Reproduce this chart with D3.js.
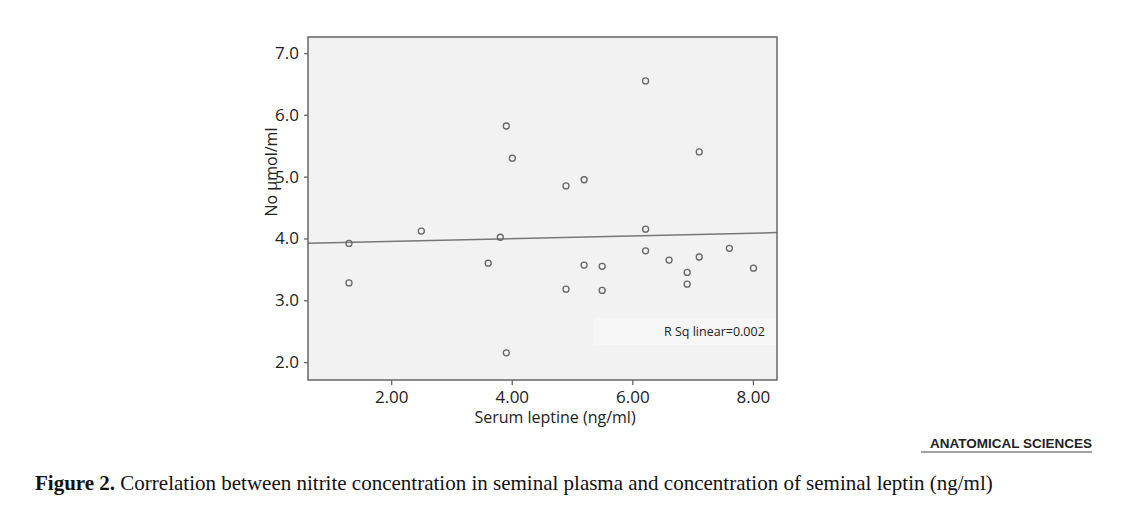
<!DOCTYPE html>
<html><head><meta charset="utf-8">
<script src="https://cdn.jsdelivr.net/npm/d3@7"></script>
<style>body{margin:0;background:#fff}</style>
</head><body>
<svg id="chart" width="1123" height="527"></svg>
<script>
// data
var leptin = [1.30,1.30,2.50,3.81,3.61,3.91,4.01,3.91,4.90,5.20,4.90,5.20,5.50,5.50,6.22,6.22,6.22,6.61,6.91,6.91,7.11,7.11,7.61,8.01];
var nitrite = [3.92,3.28,4.12,4.02,3.60,5.82,5.30,2.15,4.85,4.95,3.18,3.57,3.55,3.16,6.55,4.15,3.80,3.65,3.45,3.26,3.70,5.40,3.84,3.52];
var xTicks = [2, 4, 6, 8];
var yTicks = [2, 3, 4, 5, 6, 7];
var fitIntercept = 3.91, fitSlope = 0.022;

var svg = d3.select("#chart");
var pLeft = 308, pRight = 777, pTop = 37, pBottom = 380;
var x = d3.scaleLinear().domain([0.62, 8.4]).range([pLeft, pRight]);
var y = d3.scaleLinear().domain([1.71, 7.26]).range([pBottom, pTop]);

svg.append("rect").attr("x", pLeft).attr("y", pTop).attr("width", pRight-pLeft).attr("height", pBottom-pTop)
	.attr("fill", "#f2f2f2");

// R Sq label box
svg.append("rect").attr("x", 594).attr("y", 318).attr("width", 182).attr("height", 27).attr("fill", "#f6f6f6");
svg.append("text").attr("x", 664).attr("y", 336).attr("font-family", "Open Sans, sans-serif")
	.attr("font-size", 12.5).attr("fill", "#222").text("R Sq linear=0.002");

// fit line
svg.append("line")
	.attr("x1", x(0.62)).attr("y1", y(fitIntercept + fitSlope*0.62))
	.attr("x2", x(8.4)).attr("y2", y(fitIntercept + fitSlope*8.4))
	.attr("stroke", "#777").attr("stroke-width", 1.5);

svg.selectAll(".pt").data(leptin).enter().append("circle")
	.attr("class", "pt")
	.attr("cx", function(d) { return x(d); })
	.attr("cy", function(d, i) { return y(nitrite[i]); })
	.attr("r", 3).attr("fill", "none").attr("stroke", "#666").attr("stroke-width", 1.3);

svg.append("rect").attr("x", pLeft).attr("y", pTop).attr("width", pRight-pLeft).attr("height", pBottom-pTop)
	.attr("fill", "none").attr("stroke", "#666").attr("stroke-width", 1.5);

// axes
var xa = svg.append("g").attr("transform", "translate(0," + pBottom + ")")
	.call(d3.axisBottom(x).tickValues(xTicks).tickFormat(d3.format(".2f")).tickSize(5).tickPadding(6));
var ya = svg.append("g").attr("transform", "translate(" + pLeft + ",0)")
	.call(d3.axisLeft(y).tickValues(yTicks).tickSize(4).tickPadding(5));
[xa, ya].forEach(function(a) {
	a.select(".domain").remove();
	a.selectAll("line").attr("stroke", "#666").attr("stroke-width", 1.3);
	a.selectAll("text").attr("font-family", "Open Sans, sans-serif").attr("font-size", 17).attr("fill", "#222");
});

svg.append("text").attr("x", 555).attr("y", 423).attr("text-anchor", "middle")
	.attr("font-family", "Open Sans, sans-serif").attr("font-size", 16).attr("fill", "#222")
	.text("Serum leptine (ng/ml)");
svg.append("text").attr("transform", "translate(277,172) rotate(-90)").attr("text-anchor", "middle")
	.attr("font-family", "Open Sans, sans-serif").attr("font-size", 16).attr("fill", "#222")
	.text("No µmol/ml");

svg.append("text").attr("x", 1092).attr("y", 448).attr("text-anchor", "end")
	.attr("font-family", "Liberation Sans, sans-serif").attr("font-weight", "bold").attr("font-size", 13.5)
	.attr("fill", "#222").text("ANATOMICAL SCIENCES");
svg.append("line").attr("x1", 921).attr("x2", 1092).attr("y1", 452).attr("y2", 452).attr("stroke", "#444");

var cap = svg.append("text").attr("x", 35).attr("y", 490)
	.attr("font-family", "Liberation Serif, serif").attr("font-size", 21).attr("fill", "#111");
cap.append("tspan").attr("font-weight", "bold").text("Figure 2.");
cap.append("tspan").text(" Correlation between nitrite concentration in seminal plasma and concentration of seminal leptin (ng/ml)");
</script>
</body></html>
